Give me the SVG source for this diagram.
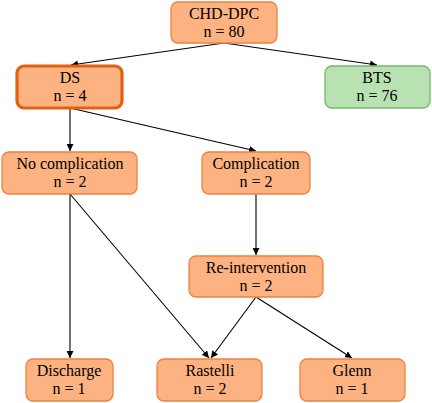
<svg xmlns="http://www.w3.org/2000/svg" width="432" height="403" viewBox="0 0 432 403">
<defs>
<marker id="ah" viewBox="0 0 10 10" refX="10" refY="5" markerWidth="7" markerHeight="7" markerUnits="userSpaceOnUse" orient="auto">
<path d="M0,0 L10,5 L0,10 z" fill="#000"/>
</marker>
<style>
.n rect{fill:#FDB281;stroke:#EE8040;stroke-width:1.3}
.g rect{fill:#B9E2B3;stroke:#79B66C;stroke-width:1.3}
.ds rect{fill:#FDB281;stroke:#E2600F;stroke-width:3.2}
text{font-family:'Liberation Serif','DejaVu Serif',serif;font-size:16px;fill:#000;text-anchor:middle}
.c line{stroke:#000;stroke-width:1.1;marker-end:url(#ah)}
</style>
</defs>
<g class="c" id="connectors">
<line x1="224" y1="43" x2="71" y2="65"/>
<line x1="224" y1="43" x2="377" y2="65"/>
<line x1="70" y1="108" x2="70" y2="151"/>
<line x1="70" y1="108" x2="256" y2="151"/>
<line x1="256" y1="194" x2="256" y2="255"/>
<line x1="70" y1="194" x2="70" y2="358"/>
<line x1="70" y1="194" x2="209" y2="358"/>
<line x1="256" y1="297" x2="211" y2="358"/>
<line x1="256" y1="297" x2="352" y2="358"/>
</g>
<g id="chd" class="n"><rect x="171" y="2" width="106" height="41" rx="7"/><text x="224" y="19">CHD-DPC</text><text x="224" y="37">n = 80</text></g>
<g id="ds" class="ds"><rect x="17" y="66" width="105" height="42" rx="7"/><text x="70" y="83">DS</text><text x="70" y="101">n = 4</text></g>
<g id="bts" class="g"><rect x="325" y="66" width="105" height="42" rx="7"/><text x="377" y="83">BTS</text><text x="377" y="101">n = 76</text></g>
<g id="nocomp" class="n"><rect x="2" y="152" width="135" height="42" rx="7"/><text x="70" y="169">No complication</text><text x="70" y="187">n = 2</text></g>
<g id="comp" class="n"><rect x="202" y="152" width="108" height="42" rx="7"/><text x="256" y="169">Complication</text><text x="256" y="187">n = 2</text></g>
<g id="reint" class="n"><rect x="189" y="256" width="134" height="41" rx="7"/><text x="256" y="273">Re-intervention</text><text x="256" y="291">n = 2</text></g>
<g id="discharge" class="n"><rect x="26" y="359" width="87" height="42" rx="7"/><text x="69" y="376">Discharge</text><text x="69" y="394">n = 1</text></g>
<g id="rastelli" class="n"><rect x="157" y="359" width="105" height="42" rx="7"/><text x="210" y="376">Rastelli</text><text x="210" y="394">n = 2</text></g>
<g id="glenn" class="n"><rect x="300" y="359" width="105" height="42" rx="7"/><text x="352" y="376">Glenn</text><text x="352" y="394">n = 1</text></g>
</svg>
